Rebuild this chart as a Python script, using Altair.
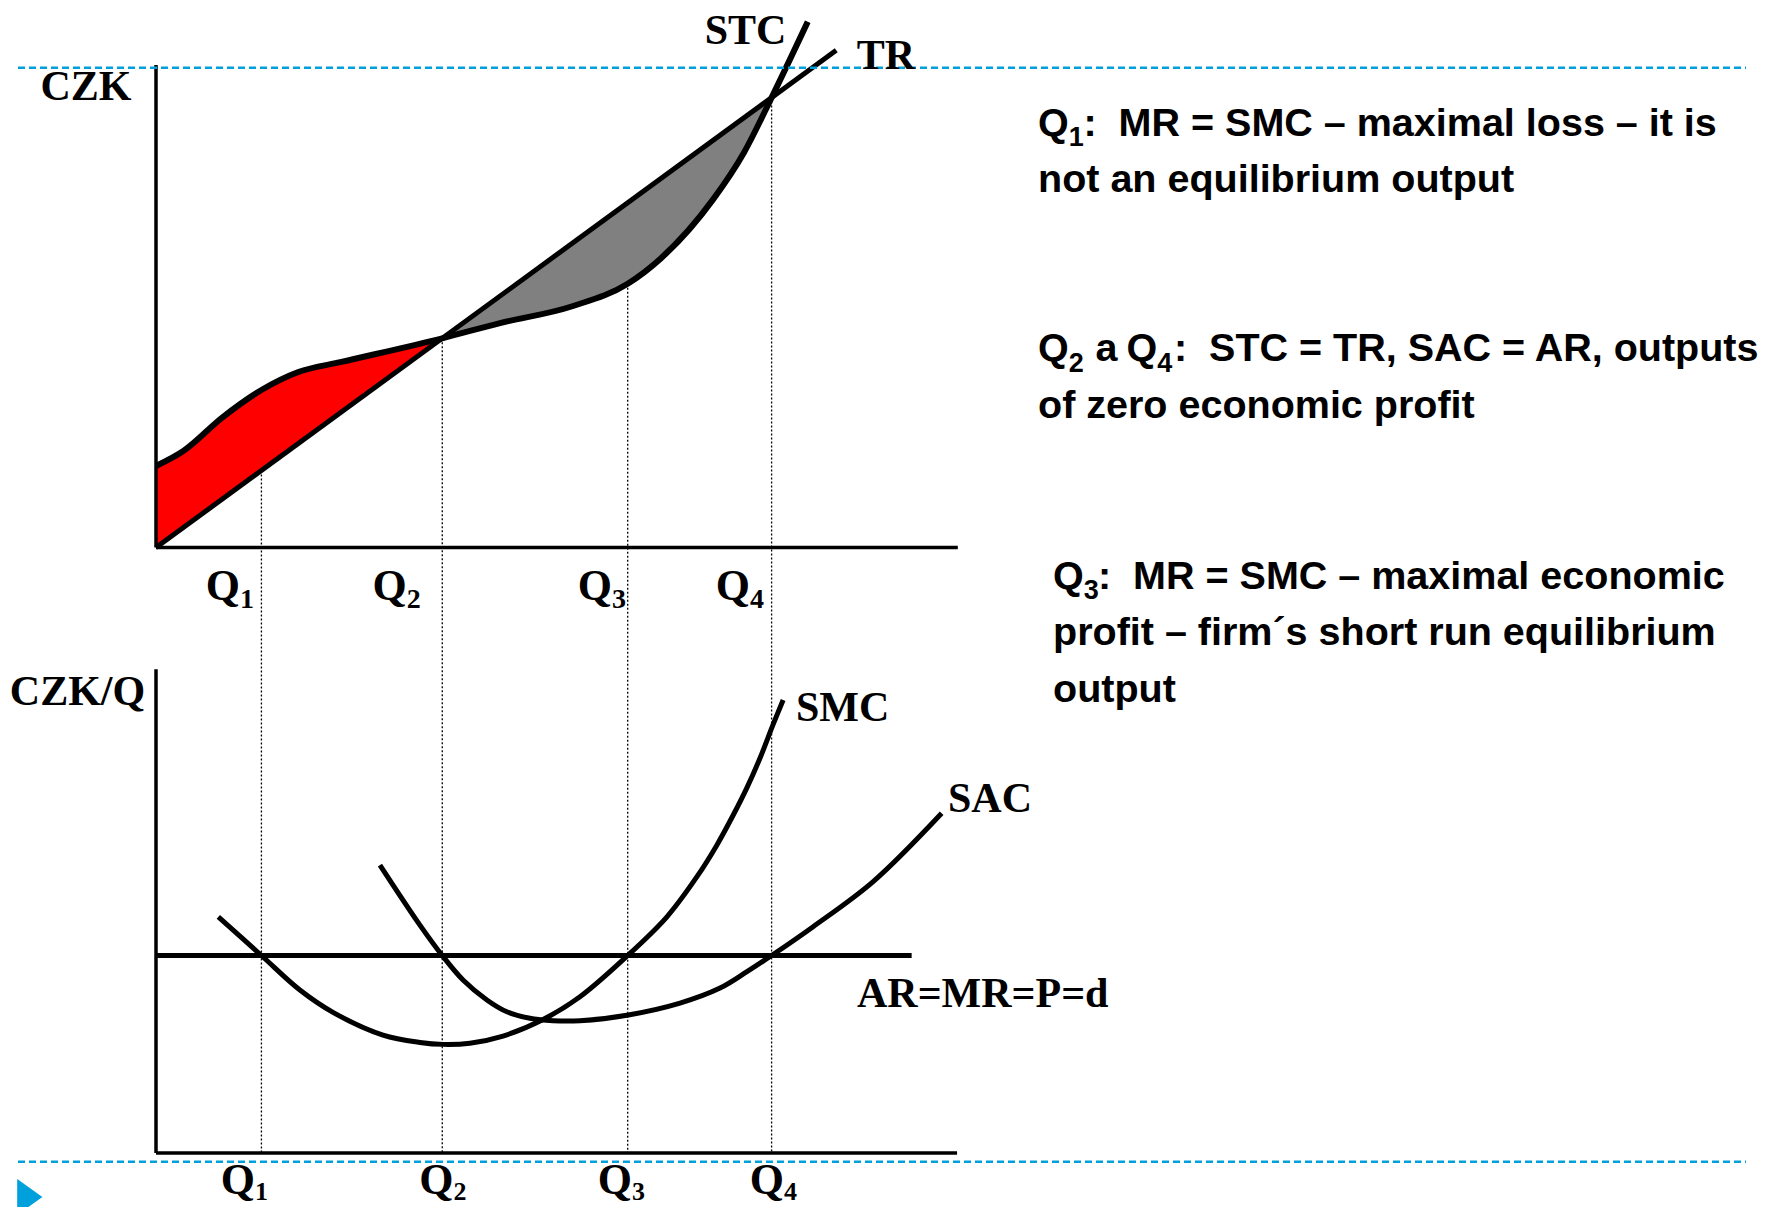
import altair as alt
import pandas as pd

# ---------------- data ----------------
PRICE = 10
Q_POINTS = [1.37, 3.72, 6.13, 8.0]
Q_NAMES = ["1", "2", "3", "4"]
Q_TOP_START = [13.7, 37.2, 46.9, 80.0]   # where the guides leave the top curves

TR_Q = [0, 8.84]
TR_V = [0, 88.4]

STC_Q = [0, 0.36, 0.86, 1.37, 1.85, 2.41, 3.72, 4.47, 5.41, 6.13, 6.56, 7.24, 7.64, 8.0, 8.47]
STC_V = [14.5, 17.2, 23.1, 28.0, 31.2, 33.0, 37.2, 39.9, 42.9, 46.9, 51.4, 61.9, 70.2, 80.0, 93.5]

SMC_Q = [0.81, 1.37, 1.87, 2.30, 2.95, 3.43, 3.73, 4.08, 4.51, 5.03, 5.51, 6.13, 6.64, 7.03, 7.29,
         7.50, 7.68, 7.85, 8.02, 8.15]
SMC_V = [11.96, 10.0, 8.25, 7.12, 5.97, 5.60, 5.50, 5.56, 5.92, 6.76, 7.91, 10.0, 11.96, 13.99, 15.6,
         17.1, 18.5, 20.0, 21.7, 22.94]

SAC_Q = [2.91, 3.43, 3.72, 3.99, 4.30, 4.56, 4.86, 5.16, 5.51, 6.14, 6.81, 7.33, 7.68, 8.0, 8.54, 9.32, 10.21]
SAC_V = [14.58, 11.54, 10.0, 8.76, 7.75, 7.15, 6.82, 6.70, 6.70, 6.99, 7.59, 8.35, 9.18, 10.0, 11.46, 13.74, 17.2]

AR_Q = [0, 9.82]
AR_V = [PRICE, PRICE]

TOP_AXIS_Q = [0, 10.42]
TOP_AXIS_V = [0, 85.8]
BOT_AXIS_Q = [0, 10.41]
BOT_AXIS_V = [0, 24.5]

# ---------------- layout ----------------
W, H = 1753, 1199
X0, PXQ = 148.0, 76.95          # canvas x of q=0, px per unit of q
TOP_Y0, PXC = 539.5, 5.624      # canvas y of CZK=0, px per CZK
BOT_Y0, PXB = 1145.0, 19.75     # canvas y of CZK/Q=0, px per CZK/Q

XS = alt.Scale(domain=[-X0 / PXQ, (W - X0) / PXQ], nice=False, zero=False)
YT = alt.Scale(domain=[-(H - TOP_Y0) / PXC, TOP_Y0 / PXC], nice=False, zero=False)
YB = alt.Scale(domain=[-(H - BOT_Y0) / PXB, BOT_Y0 / PXB], nice=False, zero=False)
BOT_AXIS_IN_TOP = -(BOT_Y0 - TOP_Y0) / PXC

SERIF = "Liberation Serif"
SANS = "Liberation Sans"
BLUE = "#00A0DC"


def X(f="q"):
    return alt.X(f"{f}:Q", scale=XS, axis=None)


def Yt(f="v"):
    return alt.Y(f"{f}:Q", scale=YT, axis=None)


def Yb(f="v"):
    return alt.Y(f"{f}:Q", scale=YB, axis=None)


layers = []

# top panel: filled regions between STC and TR
tr_at = lambda q: PRICE * q
red = pd.DataFrame({"q": [q for q in STC_Q if q <= Q_POINTS[1]],
                    "v": [v for q, v in zip(STC_Q, STC_V) if q <= Q_POINTS[1]]})
red["v2"] = red["q"].map(tr_at)
gray = pd.DataFrame({"q": [q for q in STC_Q if Q_POINTS[1] <= q <= Q_POINTS[3]],
                     "v": [v for q, v in zip(STC_Q, STC_V) if Q_POINTS[1] <= q <= Q_POINTS[3]]})
gray["v2"] = gray["q"].map(tr_at)
layers.append(alt.Chart(red).mark_area(color="#FF0000", interpolate="monotone", opacity=1)
              .encode(x=X(), y=Yt(), y2="v2:Q"))
layers.append(alt.Chart(gray).mark_area(color="#808080", interpolate="monotone", opacity=1)
              .encode(x=X(), y=Yt(), y2="v2:Q"))

# guides (dotted) from the top curves down to the bottom axis
guides = pd.DataFrame({"q": Q_POINTS, "v": Q_TOP_START, "v2": [BOT_AXIS_IN_TOP] * 4})
layers.append(alt.Chart(guides).mark_rule(color="black", strokeWidth=1.3, strokeDash=[2, 2])
              .encode(x=X(), y=Yt(), y2="v2:Q"))

# top axes
top_axes = pd.DataFrame({"q": [TOP_AXIS_Q[0], TOP_AXIS_Q[0]], "q2": [TOP_AXIS_Q[0], TOP_AXIS_Q[1]],
                         "v": [TOP_AXIS_V[0], TOP_AXIS_V[0]], "v2": [TOP_AXIS_V[1], TOP_AXIS_V[0]]})
layers.append(alt.Chart(top_axes).mark_rule(color="black", strokeWidth=3.5)
              .encode(x=X(), x2="q2:Q", y=Yt(), y2="v2:Q"))

# TR and STC
layers.append(alt.Chart(pd.DataFrame({"q": TR_Q, "v": TR_V})).mark_line(color="black", strokeWidth=5)
              .encode(x=X(), y=Yt()))
layers.append(alt.Chart(pd.DataFrame({"q": STC_Q, "v": STC_V})).mark_line(color="black", strokeWidth=6,
                                                                           interpolate="monotone")
              .encode(x=X(), y=Yt()))

# bottom panel axes, AR, SMC, SAC
bot_axes = pd.DataFrame({"q": [BOT_AXIS_Q[0], BOT_AXIS_Q[0]], "q2": [BOT_AXIS_Q[0], BOT_AXIS_Q[1]],
                         "v": [BOT_AXIS_V[0], BOT_AXIS_V[0]], "v2": [BOT_AXIS_V[1], BOT_AXIS_V[0]]})
layers.append(alt.Chart(bot_axes).mark_rule(color="black", strokeWidth=3.5)
              .encode(x=X(), x2="q2:Q", y=Yb(), y2="v2:Q"))
layers.append(alt.Chart(pd.DataFrame({"q": AR_Q, "v": AR_V})).mark_line(color="black", strokeWidth=5)
              .encode(x=X(), y=Yb()))
layers.append(alt.Chart(pd.DataFrame({"q": SMC_Q, "v": SMC_V})).mark_line(color="black", strokeWidth=5,
                                                                           interpolate="catmull-rom")
              .encode(x=X(), y=Yb()))
layers.append(alt.Chart(pd.DataFrame({"q": SAC_Q, "v": SAC_V})).mark_line(color="black", strokeWidth=5,
                                                                           interpolate="catmull-rom")
              .encode(x=X(), y=Yb()))

# decorative blue dashed rules and triangle
for yy in [59.7, 1153.7]:
    layers.append(alt.Chart(pd.DataFrame({"a": [0]})).mark_rule(color=BLUE, strokeWidth=2.5, strokeDash=[7, 4])
                  .encode(x=alt.value(10), x2=alt.value(1738), y=alt.value(yy)))
layers.append(alt.Chart(pd.DataFrame({"a": [0]})).mark_point(shape="M-0.7,-1L0.7,0L-0.7,1Z", filled=True,
                                                            size=1296, color=BLUE, opacity=1, strokeWidth=0)
              .encode(x=alt.value(21.8), y=alt.value(1189)))


def txt(s, x, y, size, font, align="left"):
    return (alt.Chart(pd.DataFrame({"t": [s]}))
            .mark_text(align=align, baseline="alphabetic", font=font, fontSize=size, fontWeight="bold",
                       color="black")
            .encode(x=alt.value(x), y=alt.value(y), text="t:N"))


# serif labels
layers += [
    txt("CZK", 78, 92, 42, SERIF, "center"),
    txt("STC", 737.5, 36, 42, SERIF, "center"),
    txt("TR", 878, 61, 42, SERIF, "center"),
    txt("CZK/Q", 69.5, 696.5, 42, SERIF, "center"),
    txt("SMC", 788, 712.7, 42, SERIF),
    txt("SAC", 940, 804, 42, SERIF),
    txt("AR=MR=P=d", 849, 998.7, 42, SERIF),
]
for ax, name in zip([232, 398.7, 604, 742], Q_NAMES):
    layers.append(txt("Q", ax, 592, 44, SERIF, "right"))
    layers.append(txt(name, ax, 600, 28, SERIF))
for ax, name in zip([247, 445.6, 624, 776], Q_NAMES):
    layers.append(txt("Q", ax, 1186, 44, SERIF, "right"))
    layers.append(txt(name, ax, 1192, 26, SERIF))

# right-hand explanations
F, FS, SS = SANS, 39.5, 27
NB = "\u00a0"
layers += [
    txt("Q", 1030, 128, FS, F), txt("1", 1060.7, 138, SS, F),
    txt(":" + NB + " MR = SMC – maximal loss – it is", 1075.5, 128, FS, F),
    txt("not an equilibrium output", 1030, 184, FS, F),
    txt("Q", 1030, 353.4, FS, F), txt("2", 1060.7, 363.5, SS, F),
    txt("a", 1087.6, 353.4, FS, F),
    txt("Q", 1118.5, 353.4, FS, F), txt("4", 1149.2, 363.5, SS, F),
    txt(":" + NB + " STC = TR, SAC = AR, outputs", 1166, 353.4, FS, F),
    txt("of zero economic profit", 1030, 409.8, FS, F),
    txt("Q", 1045, 581, FS, F), txt("3", 1075.7, 591, SS, F),
    txt(":" + NB + " MR = SMC – maximal economic", 1090, 581, FS, F),
    txt("profit – firm´s short run equilibrium", 1045, 637.4, FS, F),
    txt("output", 1045, 693.8, FS, F),
]

chart = (alt.layer(*layers)
         .resolve_scale(y="independent")
         .properties(width=W, height=H, padding=0, background="white",
                     autosize=alt.AutoSizeParams(type="none"))
         .configure_view(stroke=None))

chart.save("out.html", embed_options={"renderer": "svg", "actions": False})
